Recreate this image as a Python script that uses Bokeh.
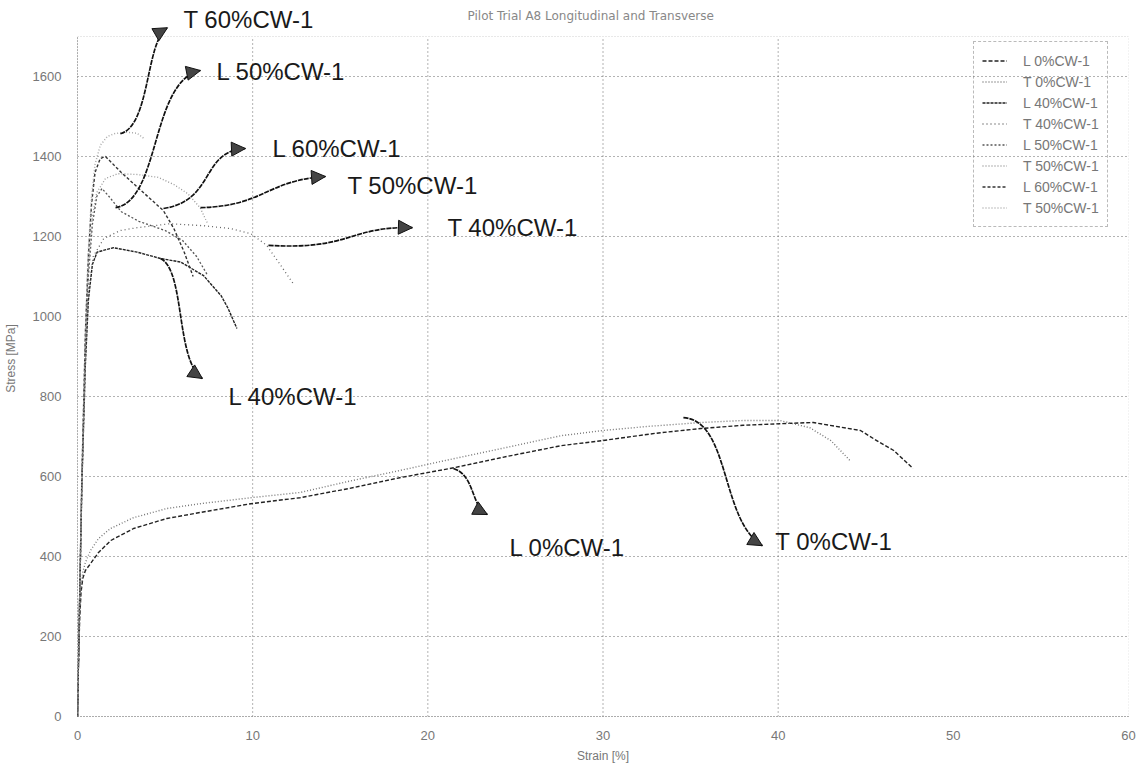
from bokeh.plotting import figure
from bokeh.models import (Range1d, FixedTicker, Legend, LegendItem, Label, Arrow,
                          NormalHead, BoxAnnotation, ColumnDataSource)
from bokeh.embed import file_html
from bokeh.resources import INLINE

# ---------------- data ----------------
L0_strain = [0, 0.05, 0.12, 0.2, 0.3, 0.45, 0.74, 1.2, 1.9, 3.2, 5.1, 7.0, 9.9, 12.7, 15.5, 18.4,
             21.5, 24.5, 27.6, 30.0, 33.0, 35.6, 38.0, 40.1, 42.0, 44.7, 45.8, 46.6, 47.7]
L0_stress = [0, 120, 240, 310, 345, 365, 382, 410, 440, 470, 495, 510, 532, 547, 570, 597,
             622, 650, 677, 690, 708, 720, 728, 732, 735, 715, 685, 665, 620]

T0_strain = [0, 0.05, 0.12, 0.2, 0.3, 0.45, 0.74, 1.2, 1.88, 3.2, 5.1, 7.0, 9.9, 12.7, 15.5, 18.4,
             21.0, 24.0, 27.6, 30.0, 32.5, 35.6, 38.0, 40.1, 41.8, 43.0, 44.1]
T0_stress = [0, 120, 240, 320, 360, 385, 415, 445, 470, 497, 520, 532, 547, 560, 588, 615,
             640, 668, 702, 715, 725, 735, 740, 740, 722, 690, 640]

L40_strain = [0, 0.08, 0.25, 0.45, 0.62, 0.85, 1.12, 2.05, 3.4, 4.74, 5.9, 7.2, 8.2, 8.6, 9.1]
L40_stress = [0, 200, 580, 880, 1040, 1130, 1161, 1172, 1161, 1145, 1136, 1102, 1052, 1020, 970]

T40_strain = [0, 0.08, 0.25, 0.45, 0.65, 0.9, 1.5, 2.45, 3.4, 5.3, 7.2, 8.7, 9.9, 10.8, 11.6, 12.3]
T40_stress = [0, 200, 580, 900, 1070, 1150, 1195, 1215, 1222, 1232, 1227, 1220, 1207, 1178, 1128, 1083]

L50_strain = [0, 0.08, 0.25, 0.45, 0.62, 0.85, 1.1, 1.4, 1.8, 2.5, 3.5, 5.0, 6.0, 6.8, 7.4]
L50_stress = [0, 190, 580, 920, 1100, 1230, 1300, 1320, 1300, 1262, 1238, 1215, 1190, 1150, 1105]

T50_strain = [0, 0.08, 0.25, 0.45, 0.62, 0.85, 1.1, 1.6, 2.3, 3.4, 4.6, 5.5, 6.3, 7.0, 7.4]
T50_stress = [0, 200, 600, 940, 1120, 1250, 1310, 1345, 1357, 1355, 1348, 1330, 1307, 1272, 1235]

L60_strain = [0, 0.08, 0.25, 0.45, 0.62, 0.8, 1.0, 1.3, 1.6, 2.5, 3.5, 4.9, 5.5, 6.1, 6.6]
L60_stress = [0, 200, 600, 960, 1150, 1280, 1360, 1395, 1400, 1360, 1320, 1265, 1220, 1160, 1100]

T60_strain = [0, 0.08, 0.25, 0.45, 0.6, 0.8, 1.0, 1.3, 1.7, 2.1, 2.8, 3.4, 3.8]
T60_stress = [0, 200, 600, 950, 1150, 1300, 1380, 1428, 1450, 1457, 1461, 1458, 1445]

legend_labels = ["L 0%CW-1", "T 0%CW-1", "L 40%CW-1", "T 40%CW-1",
                 "L 50%CW-1", "T 50%CW-1", "L 60%CW-1", "T 50%CW-1"]

x_ticks = [0, 10, 20, 30, 40, 50, 60]
y_ticks = [0, 200, 400, 600, 800, 1000, 1200, 1400, 1600]
x_grid = [10, 20, 30, 40]
y_grid = [200, 400, 600, 800, 1000, 1200, 1400, 1600]
X_MAX = 60
Y_TOP = 1700

# annotation callouts: label, text position, curved arrow (start, ctrl0, ctrl1, end)
callout_labels = ["T 60%CW-1", "L 50%CW-1", "L 60%CW-1", "T 50%CW-1",
                  "T 40%CW-1", "L 40%CW-1", "L 0%CW-1", "T 0%CW-1"]
callout_text_x = [6.05, 7.93, 11.13, 15.41, 21.12, 8.62, 24.66, 39.84]
callout_text_y = [1742, 1612, 1420, 1327, 1222, 800, 422, 437]
arrow_x0 = [2.45, 2.17, 4.91, 7.02, 10.90, 4.74, 21.46, 34.59]
arrow_y0 = [1457, 1272, 1270, 1272, 1178, 1145, 620, 747]
arrow_cx0 = [4.17, 4.74, 7.88, 10.73, 15.58, 6.16, 22.72, 37.27]
arrow_cy0 = [1477, 1290, 1290, 1277, 1165, 1115, 602, 740]
arrow_cx1 = [3.88, 4.17, 7.02, 10.73, 15.58, 5.59, 22.43, 36.70]
arrow_cy1 = [1690, 1590, 1415, 1340, 1227, 890, 527, 490]
arrow_x1 = [5.14, 7.02, 9.59, 14.16, 19.12, 7.13, 23.40, 39.10]
arrow_y1 = [1722, 1615, 1420, 1350, 1222, 845, 505, 427]

# ---------------- figure ----------------
p = figure(width=1139, height=769, output_backend="svg", toolbar_location=None,
           x_range=Range1d(0, 60), y_range=Range1d(0, 1790),
           min_border_left=77, min_border_right=11, min_border_top=0, min_border_bottom=53)
p.outline_line_color = None
p.background_fill_color = "white"
p.grid.visible = False

# grid lines (dotted), limited to the plot box
grid_dash = "1 3"
p.segment(x0=x_grid, y0=[0] * len(x_grid), x1=x_grid, y1=[Y_TOP] * len(x_grid),
          line_color="#666", line_dash=grid_dash, line_width=1)
p.segment(x0=[0] * len(y_grid), y0=y_grid, x1=[X_MAX] * len(y_grid), y1=y_grid,
          line_color="#666", line_dash=grid_dash, line_width=1)
p.add_layout(BoxAnnotation(left=0, right=X_MAX, bottom=0, top=Y_TOP, fill_alpha=0,
                           line_color="#666", line_dash="1 2", line_width=1))

# axes
for ax in (p.xaxis[0], p.yaxis[0]):
    ax.axis_line_color = "#666"
    ax.axis_line_dash = "1 2"
    ax.major_tick_line_color = None
    ax.minor_tick_line_color = None
    ax.major_label_text_color = "#777"
    ax.major_label_text_font = "Liberation Sans"
    ax.major_label_text_font_size = "13px"
    ax.axis_label_text_color = "#777"
    ax.axis_label_text_font = "Liberation Sans"
    ax.axis_label_text_font_size = "12px"
    ax.axis_label_text_font_style = "normal"
p.xaxis.ticker = FixedTicker(ticks=x_ticks)
p.yaxis.ticker = FixedTicker(ticks=y_ticks)
p.xaxis.bounds = (0, X_MAX)
p.yaxis.bounds = (0, Y_TOP)
p.xaxis.axis_label = "Strain [%]"
p.yaxis.axis_label = "Stress [MPa]"
p.xaxis.major_label_standoff = 8
p.yaxis.major_label_standoff = 10
p.xaxis.axis_label_standoff = 6
p.yaxis.axis_label_standoff = 12

# curves
series = [
    (L0_strain, L0_stress, "#222222", "4 2", 1.4),
    (T0_strain, T0_stress, "#777777", "1 2", 1.4),
    (L40_strain, L40_stress, "#222222", "3 1", 1.4),
    (T40_strain, T40_stress, "#666666", "1 3", 1.3),
    (L50_strain, L50_stress, "#555555", "2 2", 1.3),
    (T50_strain, T50_stress, "#999999", "1 2", 1.3),
    (L60_strain, L60_stress, "#333333", "3 2", 1.4),
    (T60_strain, T60_stress, "#aaaaaa", "1 2", 1.5),
]
items = []
for (xs, ys, col, dash, w), lab in zip(series, legend_labels):
    r = p.line(xs, ys, line_color=col, line_dash=dash, line_width=w)
    items.append(LegendItem(label=lab, renderers=[r]))

legend = Legend(items=items, location=(896, 489), orientation="vertical",
                glyph_width=25, glyph_height=21, label_height=21, spacing=0,
                padding=8, label_standoff=16, margin=0,
                label_text_font="Liberation Sans", label_text_font_size="14px",
                label_text_color="#777", border_line_color="#777", border_line_dash="1 2",
                background_fill_alpha=0)
p.add_layout(legend)

# curved callout arrows
asrc = ColumnDataSource(dict(x0=arrow_x0, y0=arrow_y0, x1=arrow_x1, y1=arrow_y1,
                             cx0=arrow_cx0, cy0=arrow_cy0, cx1=arrow_cx1, cy1=arrow_cy1))
p.bezier(x0="x0", y0="y0", x1="x1", y1="y1", cx0="cx0", cy0="cy0", cx1="cx1", cy1="cy1",
         source=asrc, line_color="#111", line_width=1.7, line_dash="5 1")
for i in range(len(callout_labels)):
    p.add_layout(Arrow(end=NormalHead(size=14, fill_color="#444", line_color="#111",
                                      line_width=1, hatch_pattern="x", hatch_color="#bbb",
                                      hatch_scale=4, hatch_weight=0.8),
                       x_start=arrow_cx1[i], y_start=arrow_cy1[i],
                       x_end=arrow_x1[i], y_end=arrow_y1[i], line_alpha=0))
    p.add_layout(Label(x=callout_text_x[i], y=callout_text_y[i], text=callout_labels[i],
                       text_font="Liberation Sans", text_font_size="24px",
                       text_color="#1a1a1a", text_baseline="middle", text_align="left"))

# title
p.add_layout(Label(x=29.3, y=1752, text="Pilot Trial A8 Longitudinal and Transverse",
                   text_font="DejaVu Sans", text_font_size="12px", text_color="#888",
                   text_align="center", text_baseline="middle"))

open("out.html", "w").write(file_html(p, INLINE))
